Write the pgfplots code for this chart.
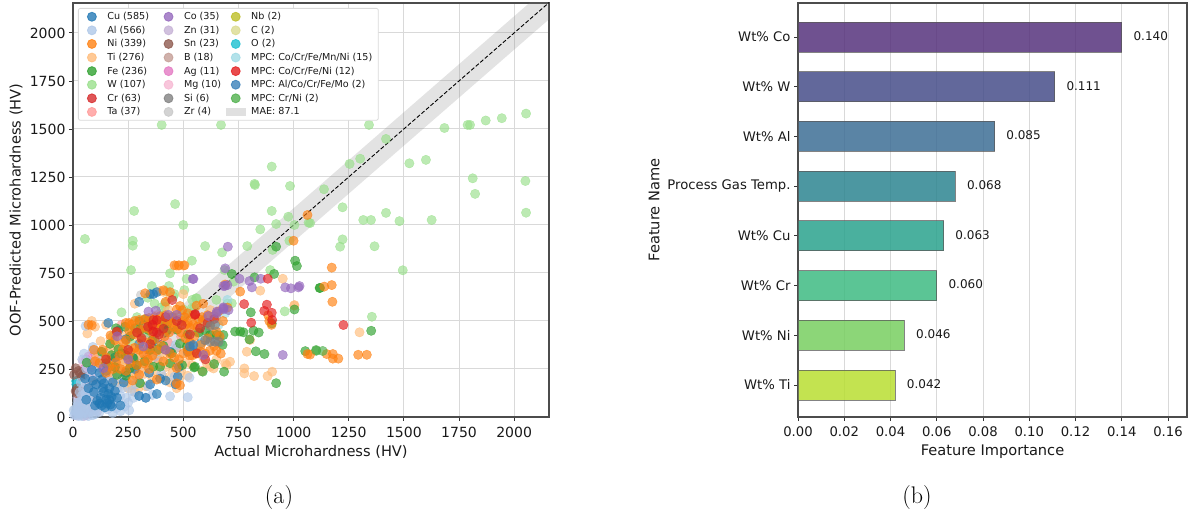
\documentclass[border=0pt]{standalone}
\usepackage{fontspec}
\usepackage{pgfplots}
\pgfplotsset{compat=1.18}
\newfontfamily\dv{DejaVu Sans}
\definecolor{cCu}{HTML}{1F77B4}\definecolor{cAl}{HTML}{AEC7E8}\definecolor{cNi}{HTML}{FF7F0E}
\definecolor{cTi}{HTML}{FFBB78}\definecolor{cFe}{HTML}{2CA02C}\definecolor{cW}{HTML}{98DF8A}
\definecolor{cCr}{HTML}{D62728}\definecolor{cTa}{HTML}{FF9896}\definecolor{cCo}{HTML}{9467BD}
\definecolor{cZn}{HTML}{C5B0D5}\definecolor{cSn}{HTML}{8C564B}\definecolor{cB}{HTML}{C49C94}
\definecolor{cAg}{HTML}{E377C2}\definecolor{cMg}{HTML}{F7B6D2}\definecolor{cSi}{HTML}{7F7F7F}
\definecolor{cZr}{HTML}{C7C7C7}\definecolor{cNb}{HTML}{BCBD22}\definecolor{cC}{HTML}{DBDB8D}
\definecolor{cO}{HTML}{17BECF}\definecolor{cMa}{HTML}{9EDAE5}\definecolor{cMb}{HTML}{E41A1C}
\definecolor{cMc}{HTML}{377EB8}\definecolor{cMd}{HTML}{4DAF4A}
\definecolor{spine}{gray}{0.3}\definecolor{gridc}{gray}{0.85}
\definecolor{va}{RGB}{86,50,124}\definecolor{vb}{RGB}{70,78,138}\definecolor{vc}{RGB}{61,110,149}
\definecolor{vd}{RGB}{45,133,144}\definecolor{ve}{RGB}{42,162,141}\definecolor{vf}{RGB}{62,187,130}
\definecolor{vg}{RGB}{120,207,96}\definecolor{vh}{RGB}{184,222,49}
\pgfplotsset{
  pts/.style={forget plot,only marks,mark=*,mark size=4.7pt,opacity=0.65,color=#1,mark options={draw=none,fill=#1}},
  leg/.style={only marks,mark=*,mark size=4.5pt,opacity=0.78,color=#1,mark options={draw=none,fill=#1}},
  base/.style={scale only axis,anchor=south west,
    /pgf/number format/assume math mode=true,
    axis line style={draw=spine,line width=1.1pt},
    grid style={draw=gridc,line width=1pt},
    tick style={draw=black!80,line width=0.9pt},major tick length=4pt,
    tick align=outside,xtick pos=bottom,ytick pos=left,
    xticklabel style={yshift=-2.5pt}},
  abar/.style={forget plot,xbar,bar shift=0pt,bar width=30pt,fill=#1,fill opacity=0.85,draw=black!65,draw opacity=0.75,line width=0.9pt,
    nodes near coords,point meta=x,
    nodes near coords style={/pgf/number format/fixed,/pgf/number format/fixed zerofill,/pgf/number format/precision=3,
      /pgf/number format/assume math mode=true,font=\dv\fontsize{12}{14}\selectfont,text=black!90,anchor=west,xshift=8pt,yshift=1pt,opacity=1,fill opacity=1,text opacity=1}}
}
\begin{document}
\begin{tikzpicture}
\useasboundingbox (0,0) rectangle (1194pt,511pt);
\begin{axis}[base,at={(73pt,94pt)},width=476pt,height=414pt,
  xmin=0,xmax=2158,ymin=0,ymax=2156,
  xtick={0,250,...,2000},ytick={0,250,...,2000},grid=major,
  tick label style={font=\dv\fontsize{14}{16}\selectfont,text=black!90},
  /pgf/number format/1000 sep={},
  xlabel={Actual Microhardness (HV)},ylabel={OOF-Predicted Microhardness (HV)},
  every axis x label/.style={at={(axis description cs:0.5,-0.0845)},anchor=center,font=\dv\fontsize{14.6}{16}\selectfont,text=black!90},
  every axis y label/.style={at={(axis description cs:-0.1197,0.5)},anchor=center,rotate=90,font=\dv\fontsize{14.6}{16}\selectfont,text=black!90},
  legend columns=3,legend cell align=left,
  legend style={at={(axis description cs:0.0105,0.988)},anchor=north west,draw=black!15,line width=0.8pt,rounded corners=2pt,
    fill=white,font=\dv\fontsize{9.6}{11}\selectfont,text=black!90,
    /tikz/every odd column/.append style={column sep=9pt},
    /tikz/column 2/.append style={column sep=13pt},
    /tikz/column 4/.append style={column sep=4pt},
    row sep=0.8pt,inner ysep=2pt,inner xsep=9pt},
]
\addplot[forget plot,fill=gray,fill opacity=0.22,draw=none] coordinates {(0,0)(0,87.1)(2158,2245.1)(2158,2070.9)(87.1,0)} -- cycle;
\addplot[forget plot,black,dashed,line width=0.9pt,dash pattern=on 4pt off 2pt] coordinates {(0,0)(2158,2158)};
% small groups first
\addplot[pts=cZr] coordinates {(308,635)(10,40)(620,440)(40,70)};
\addplot[pts=cZn] coordinates {(30,15)(60,10)(45,30)(70,20)(90,50)(30,70)(55,135)(85,205)(20,100)(50,5)(110,30)(15,8)};
\addplot[pts=cMg] coordinates {(60,160)(100,300)(140,330)(45,290)(80,220)(120,260)(170,240)(90,345)(35,60)(75,100)};
\addplot[pts=cAg] coordinates {(70,315)(90,290)(60,300)(130,255)(140,270)(50,250)(165,300)(100,330)(110,310)(85,260)};
\addplot[pts=cB] coordinates {(80,150)(120,180)(200,260)(280,300)(350,420)(420,480)(60,145)(95,120)(160,220)(240,350)(310,440)(385,300)(470,360)(520,400)(150,290)(90,180)};
\addplot[pts=cTa] coordinates {(395,410)(319,384)(213,315)(289,245)(107,306)(455,453)(251,410)(330,320)(180,200)(270,280)(430,390)(490,420)(140,210)(360,340)(220,480)};
\addplot[pts=cNb] coordinates {(175,296)(225,300)};
\addplot[pts=cC] coordinates {(183,400)(250,360)};
\addplot[pts=cO] coordinates {(14,187)(15,170)};
\addplot[pts=cSn] coordinates {(12,254)(32,228)(45,215)(17,124)(12,135)(20,150)(5,220)(40,210)(25,240)};
% W
\addplot[pts=cW] coordinates {(402,1521)(671,1521)(1342,1521)(901,1304)(823,1214)(825,1208)(984,1203)(1254,1318)(1302,1345)(1138,1186)(1222,1092)(277,1073)(463,1109)(901,1073)(976,1043)(1419,1448)(1684,1505)(1789,1521)(1800,1521)(1871,1544)(1944,1556)(2054,1580)(1525,1321)(1600,1339)(1812,1243)(1823,1162)(2051,1229)(2054,1064)(1316,1026)(1351,1026)(1419,1063)(1480,1020)(1626,1026)(1222,925)(1211,887)(1367,889)(1495,764)(1355,522)(1075,1010)(921,1005)(1004,1000)(1068,1012)(849,977)(981,918)(905,870)(599,890)(676,857)(790,890)(539,814)(687,765)(894,765)(561,618)(728,705)(720,592)(500,1000)(54,927)(271,918)(271,892)(263,765)(440,748)(515,719)(505,661)(357,682)(435,682)(425,653)(339,621)(455,627)(417,592)(558,618)(417,574)(538,566)(220,545)(370,590)(400,570)(410,530)(500,560)(520,530)(550,570)(540,610)(600,510)(650,610)(700,590)(560,440)(460,640)(290,520)(180,420)(310,360)(960,550)(330,440)(480,520)(260,390)};
% Ti
\addplot[pts=cTi] coordinates {(65,435)(85,500)(100,470)(150,480)(125,395)(170,370)(210,300)(230,260)(270,230)(160,340)(190,300)(130,250)(105,310)(180,210)(215,180)(250,150)(280,130)(240,330)(280,320)(310,290)(345,270)(375,240)(410,210)(440,180)(470,150)(300,410)(335,390)(365,360)(395,330)(425,300)(455,270)(490,240)(520,215)(340,500)(380,530)(420,500)(460,470)(500,430)(530,380)(560,345)(590,310)(622,262)(607,279)(637,253)(690,279)(712,288)(697,270)(788,340)(803,401)(777,253)(777,227)(821,213)(882,213)(903,236)(1004,583)(622,557)(951,720)(849,658)(1003,580)(1299,441)(394,656)(410,652)(480,788)(500,788)(470,788)(600,400)(640,440)(660,405)(570,450)(540,500)(280,590)(440,620)(500,640)(260,460)(220,430)(190,380)(430,560)(300,180)(650,300)(585,240)(330,160)(205,240)(120,340)(140,290)(165,250)(195,335)(225,290)(255,255)(285,215)(315,255)(350,310)(240,190)(265,165)(295,145)(325,225)(360,200)(390,270)(420,260)(450,230)(480,200)(510,280)(540,270)(170,410)(210,360)(245,300)(275,360)(305,330)(200,170)};
% Al
\addplot[pts=cAl] coordinates {(5,10)(12,30)(18,55)(25,20)(30,45)(35,80)(40,15)(45,65)(50,35)(55,95)(60,20)(65,50)(70,110)(75,75)(80,30)(85,130)(90,60)(95,95)(100,15)(105,45)(110,150)(115,80)(120,115)(125,55)(130,170)(135,90)(140,60)(145,130)(150,100)(155,40)(160,150)(165,75)(170,115)(180,60)(185,95)(190,130)(195,200)(205,80)(215,110)(225,150)(235,55)(240,100)(255,35)(265,135)(275,100)(285,170)(300,110)(330,100)(360,115)(440,108)(520,103)(528,205)(400,225)(70,290)(50,330)(90,350)(60,250)(30,130)(35,180)(45,145)(60,175)(75,210)(100,240)(120,205)(140,200)(165,185)(230,205)(300,190)(340,160)(480,275)(460,210)(465,375)(110,260)(130,295)(25,5)(3,35)(40,5)(70,5)(120,25)(90,10)(180,20)(195,45)(57,474)(90,365)(42,300)(20,75)(10,15)(55,120)(40,110)(95,160)(70,135)(110,125)(200,150)(250,75)(215,30)};
% Cu
\addplot[pts=cCu] coordinates {(120,230)(130,195)(140,175)(150,240)(135,150)(160,120)(165,90)(170,65)(175,105)(155,70)(145,50)(125,100)(110,85)(100,60)(95,130)(90,190)(85,245)(105,170)(180,180)(190,135)(175,55)(200,100)(215,60)(230,180)(240,230)(300,110)(330,100)(345,230)(350,170)(380,120)(395,200)(420,190)(465,170)(475,210)(480,260)(300,380)(280,250)(270,310)(320,480)(240,405)(205,450)(160,490)(370,400)(420,440)(300,600)(380,650)(580,385)(440,340)(520,340)(545,370)(350,640)(190,310)(120,70)(150,90)(140,130)(130,60)(165,150)(60,90)(70,150)(55,200)(364,640)};
\addplot[pts=cMa] coordinates {(650,520)(620,490)(600,480)(610,510)(570,370)(660,480)(640,395)(380,340)(395,365)(580,490)(700,610)(690,540)(660,430)(590,410)(670,390)};
% Fe
\addplot[pts=cFe] coordinates {(236,470)(195,462)(301,497)(428,488)(428,453)(168,381)(206,353)(274,306)(387,353)(395,262)(258,254)(304,176)(448,332)(553,262)(588,236)(640,276)(685,236)(621,427)(652,427)(682,427)(735,445)(758,445)(773,441)(800,404)(818,450)(842,440)(829,342)(868,328)(921,176)(342,453)(304,453)(281,462)(352,471)(62,283)(516,366)(485,383)(364,262)(349,349)(289,270)(806,545)(1004,560)(901,487)(1053,343)(1103,345)(921,887)(1007,814)(1015,786)(720,745)(823,727)(912,745)(1118,672)(1120,672)(1352,449)(678,375)(549,258)(175,322)(239,322)(400,480)(470,455)(520,430)(570,440)(600,450)(450,520)(330,510)(260,420)(220,330)(150,280)(200,220)(360,400)(410,370)(130,340)(190,260)(240,215)(325,290)(440,280)(495,270)};
% Ni
\addplot[pts=cNi] coordinates {(70,480)(85,478)(135,350)(95,350)(100,290)(190,400)(150,310)(230,385)(240,490)(255,490)(265,480)(280,500)(300,505)(325,510)(345,515)(370,520)(395,525)(420,530)(450,520)(470,510)(495,500)(520,490)(545,480)(565,470)(590,500)(610,530)(620,480)(640,525)(660,550)(550,420)(530,390)(510,410)(490,440)(475,460)(455,470)(435,440)(415,420)(395,450)(380,470)(360,440)(340,460)(325,470)(305,455)(290,440)(275,430)(255,450)(240,400)(225,350)(210,320)(195,285)(180,250)(165,265)(150,230)(300,350)(320,330)(340,355)(360,320)(380,345)(400,370)(420,350)(440,330)(460,310)(480,300)(500,330)(520,350)(540,320)(560,330)(580,340)(600,330)(620,345)(640,370)(650,345)(670,330)(470,175)(485,165)(380,195)(300,220)(270,190)(240,240)(260,280)(290,270)(320,280)(340,300)(350,390)(370,405)(310,400)(280,360)(260,340)(200,440)(170,425)(420,600)(440,650)(410,660)(460,790)(480,790)(505,790)(560,580)(590,590)(495,555)(470,560)(520,540)(545,530)(585,520)(650,445)(665,420)(680,500)(700,570)(690,690)(505,520)(510,480)(530,465)(445,490)(425,500)(400,490)(375,490)(350,480)(327,644)(485,578)(1063,1052)(1000,918)(758,653)(1173,778)(1139,679)(1173,687)(1176,600)(1150,328)(1178,328)(1178,304)(1203,304)(1293,324)(1332,324)(1075,325)(1063,328)(890,500)(900,480)(885,530)(120,280)(215,250)(250,310)(345,250)(410,290)(470,255)(530,320)(580,375)(610,410)(570,510)};
% Cr
\addplot[pts=cCr] coordinates {(198,445)(290,440)(390,430)(493,479)(311,410)(576,462)(561,332)(450,609)(554,536)(420,520)(340,470)(470,500)(350,380)(250,350)(600,300)(530,430)(610,490)(640,510)(380,440)(410,460)(365,505)(150,300)};
% Co
\addplot[pts=cCo] coordinates {(702,887)(690,774)(546,719)(755,720)(682,682)(690,683)(700,687)(800,708)(811,675)(851,720)(962,675)(988,670)(1022,675)(1027,682)(682,571)(951,323)(591,323)(682,566)(652,540)(614,526)(705,557)(342,549)(376,554)(432,532)(470,532)(652,549)(682,561)(319,367)(138,254)(543,719)(420,350)(250,300)(200,420)};
% Si
\addplot[pts=cSi] coordinates {(622,474)(644,479)(622,392)(644,392)(660,392)(599,400)};
% MPC
\addplot[pts=cMb] coordinates {(883,720)(776,588)(879,585)(867,553)(901,543)(903,505)(808,491)(1226,479)(380,505)(364,445)(553,532)(360,480)};
\addplot[pts=cMc] coordinates {(530,367)(545,375)};
\addplot[pts=cMd] coordinates {(1102,349)(1132,344)};
% legend, row by row
\addlegendimage{leg=cCu}\addlegendentry{Cu (585)}
\addlegendimage{leg=cCo}\addlegendentry{Co (35)}
\addlegendimage{leg=cNb}\addlegendentry{Nb (2)}
\addlegendimage{leg=cAl}\addlegendentry{Al (566)}
\addlegendimage{leg=cZn}\addlegendentry{Zn (31)}
\addlegendimage{leg=cC}\addlegendentry{C (2)}
\addlegendimage{leg=cNi}\addlegendentry{Ni (339)}
\addlegendimage{leg=cSn}\addlegendentry{Sn (23)}
\addlegendimage{leg=cO}\addlegendentry{O (2)}
\addlegendimage{leg=cTi}\addlegendentry{Ti (276)}
\addlegendimage{leg=cB}\addlegendentry{B (18)}
\addlegendimage{leg=cMa}\addlegendentry{MPC: Co/Cr/Fe/Mn/Ni (15)\hspace*{-5pt}}
\addlegendimage{leg=cFe}\addlegendentry{Fe (236)}
\addlegendimage{leg=cAg}\addlegendentry{Ag (11)}
\addlegendimage{leg=cMb}\addlegendentry{MPC: Co/Cr/Fe/Ni (12)}
\addlegendimage{leg=cW}\addlegendentry{W (107)}
\addlegendimage{leg=cMg}\addlegendentry{Mg (10)}
\addlegendimage{leg=cMc}\addlegendentry{MPC: Al/Co/Cr/Fe/Mo (2)}
\addlegendimage{leg=cCr}\addlegendentry{Cr (63)}
\addlegendimage{leg=cSi}\addlegendentry{Si (6)}
\addlegendimage{leg=cMd}\addlegendentry{MPC: Cr/Ni (2)}
\addlegendimage{leg=cTa}\addlegendentry{Ta (37)}
\addlegendimage{leg=cZr}\addlegendentry{Zr (4)}
\addlegendimage{legend image code/.code={\path[overlay,fill=black!12,draw=none,sharp corners] (-1.5pt,-4pt) rectangle (18.5pt,4pt);}}\addlegendentry{MAE: 87.1}
\end{axis}
\begin{axis}[base,at={(798pt,94pt)},width=389pt,height=414pt,
  xmin=0,xmax=0.1682,ymin=-0.684,ymax=7.644,y dir=reverse,
  xtick={0,0.02,...,0.16},ytick={0,...,7},
  xticklabel style={/pgf/number format/fixed,/pgf/number format/fixed zerofill,/pgf/number format/precision=2},
  scaled x ticks=false,
  yticklabels={Wt\% Co,Wt\% W,Wt\% Al,Process Gas Temp.,Wt\% Cu,Wt\% Cr,Wt\% Ni,Wt\% Ti},
  xmajorgrids=true,
  tick label style={font=\dv\fontsize{13.2}{15}\selectfont,text=black!90},
  xlabel={Feature Importance},ylabel={Feature Name},
  every axis x label/.style={at={(axis description cs:0.5,-0.0845)},anchor=center,font=\dv\fontsize{14.6}{16}\selectfont,text=black!90},
  every axis y label/.style={at={(axis description cs:-0.37,0.5)},anchor=center,rotate=90,font=\dv\fontsize{14.6}{16}\selectfont,text=black!90},
]
\addplot[abar=va] coordinates {(0.140,0)};
\addplot[abar=vb] coordinates {(0.111,1)};
\addplot[abar=vc] coordinates {(0.085,2)};
\addplot[abar=vd] coordinates {(0.068,3)};
\addplot[abar=ve] coordinates {(0.063,4)};
\addplot[abar=vf] coordinates {(0.060,5)};
\addplot[abar=vg] coordinates {(0.046,6)};
\addplot[abar=vh] coordinates {(0.042,7)};
\end{axis}
\node[font=\fontsize{24}{26}\selectfont] at (279pt,13pt) {(a)};
\node[font=\fontsize{24}{26}\selectfont] at (917pt,13pt) {(b)};
\end{tikzpicture}
\end{document}
